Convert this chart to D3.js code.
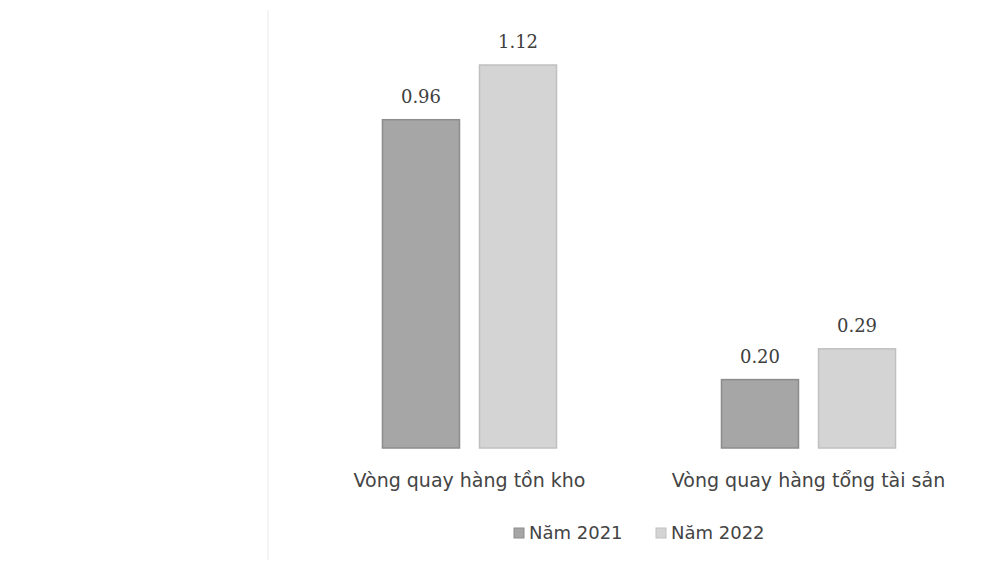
<!DOCTYPE html>
<html>
<head>
<meta charset="utf-8">
<script src="https://cdn.jsdelivr.net/npm/d3@7/dist/d3.min.js"></script>
<style>
  html, body { margin: 0; padding: 0; background: #ffffff; }
  svg { display: block; }
</style>
</head>
<body>
<svg id="chart" width="998" height="562"></svg>
<script>
// Turnover ratios, 2021 vs 2022
const categories = ["Vòng quay hàng tồn kho", "Vòng quay hàng tổng tài sản"];
const seriesNames = ["Năm 2021", "Năm 2022"];
const values2021 = [0.96, 0.20];
const values2022 = [1.12, 0.29];
const seriesColors = ["#a6a6a6", "#d4d4d4"];
const seriesStroke = ["#8c8c8c", "#c0c0c0"];

const svg = d3.select("#chart");
const plotBottom = 448, plotTop = 65;

const rows = categories.map((c, i) => ({ cat: c, vals: [values2021[i], values2022[i]] }));

const x = d3.scaleBand().domain(categories).range([300, 978]).paddingInner(0).paddingOuter(0);
const xs = d3.scaleBand().domain(seriesNames).range([0, x.bandwidth()])
  .paddingInner(0.206).paddingOuter(0.85);
const y = d3.scaleLinear().domain([0, 1.12]).range([plotBottom, plotTop]);

// faint frame line left of the plot
svg.append("line")
  .attr("x1", 268).attr("x2", 268).attr("y1", 10).attr("y2", 560)
  .attr("stroke", "#f4f4f4").attr("stroke-width", 2);

const g = svg.selectAll("g.cat").data(rows).join("g")
  .attr("class", "cat")
  .attr("transform", d => `translate(${x(d.cat)},0)`);

g.selectAll("rect").data(d => d.vals.map((v, k) => ({ v, k }))).join("rect")
  .attr("x", d => xs(seriesNames[d.k]))
  .attr("y", d => y(d.v))
  .attr("width", xs.bandwidth())
  .attr("height", d => y(0) - y(d.v))
  .attr("fill", d => seriesColors[d.k])
  .attr("stroke", d => seriesStroke[d.k])
  .attr("stroke-width", 1.5);

g.selectAll("text.val").data(d => d.vals.map((v, k) => ({ v, k }))).join("text")
  .attr("class", "val")
  .attr("x", d => xs(seriesNames[d.k]) + xs.bandwidth() / 2)
  .attr("y", d => y(d.v) - 17)
  .attr("text-anchor", "middle")
  .attr("font-family", "DejaVu Serif")
  .attr("font-size", 18)
  .attr("fill", "#404040")
  .text(d => d3.format(".2f")(d.v));

// category axis labels
svg.selectAll("text.catlabel").data(categories).join("text")
  .attr("class", "catlabel")
  .attr("x", d => x(d) + x.bandwidth() / 2)
  .attr("y", 487)
  .attr("text-anchor", "middle")
  .attr("font-family", "DejaVu Sans")
  .attr("font-size", 19)
  .attr("fill", "#444")
  .text(d => d);

// legend
const legendX = [514, 656];
const lg = svg.selectAll("g.leg").data(seriesNames).join("g")
  .attr("class", "leg")
  .attr("transform", (d, i) => `translate(${legendX[i]},539)`);
lg.append("rect")
  .attr("x", 0).attr("y", -11).attr("width", 10).attr("height", 10)
  .attr("fill", (d, i) => seriesColors[i])
  .attr("stroke", (d, i) => seriesStroke[i]);
lg.append("text")
  .attr("x", 15).attr("y", 0)
  .attr("font-family", "DejaVu Sans")
  .attr("font-size", 18)
  .attr("fill", "#444")
  .text(d => d);
</script>
</body>
</html>
